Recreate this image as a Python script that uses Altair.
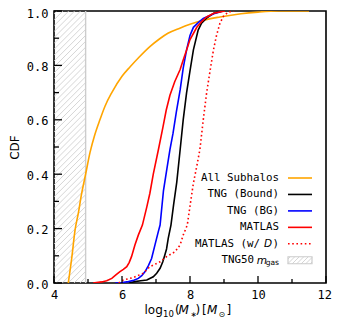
import altair as alt
import pandas as pd
import numpy as np

# ---------------- data ----------------
orange_x = [4.42, 4.52, 4.62, 4.72, 4.80, 4.93, 5.06, 5.20, 5.35, 5.50, 5.70, 6.00, 6.24, 6.50,
            6.82, 7.10, 7.35, 7.70, 8.00, 8.40, 8.88, 9.50, 10.0, 10.6, 11.5]
orange_y = [0.0, 0.09, 0.195, 0.26, 0.32, 0.40, 0.48, 0.545, 0.60, 0.65, 0.70, 0.76, 0.795, 0.83,
            0.869, 0.897, 0.918, 0.937, 0.951, 0.966, 0.978, 0.99, 0.996, 1.0, 1.0]

black_x = [6.20, 6.38, 6.55, 6.73, 6.92, 7.02, 7.12, 7.20, 7.26, 7.31, 7.36, 7.44, 7.52, 7.61,
           7.71, 7.80, 7.90, 8.00, 8.10, 8.24, 8.34, 8.50, 8.70, 8.95]
black_y = [0.0, 0.005, 0.008, 0.011, 0.023, 0.036, 0.054, 0.078, 0.103, 0.125, 0.164, 0.213, 0.29,
           0.37, 0.49, 0.60, 0.70, 0.78, 0.857, 0.93, 0.955, 0.975, 0.992, 1.0]

blue_x = [5.80, 6.00, 6.19, 6.35, 6.48, 6.58, 6.68, 6.78, 6.87, 6.97, 7.07, 7.12, 7.22, 7.32,
          7.41, 7.50, 7.60, 7.71, 7.80, 7.90, 8.00, 8.10, 8.25, 8.39, 8.55, 8.70, 8.97]
blue_y = [0.0, 0.002, 0.005, 0.01, 0.017, 0.027, 0.042, 0.065, 0.09, 0.14, 0.19, 0.213, 0.34, 0.42,
          0.49, 0.55, 0.63, 0.71, 0.79, 0.857, 0.91, 0.94, 0.958, 0.973, 0.982, 0.99, 1.0]

red_x = [5.15, 5.40, 5.55, 5.70, 5.82, 5.94, 6.04, 6.14, 6.21, 6.28, 6.38, 6.48, 6.60, 6.73,
         6.82, 6.92, 7.07, 7.20, 7.30, 7.41, 7.55, 7.71, 7.80, 7.90, 8.00, 8.20, 8.35, 8.49,
         8.70, 9.03]
red_y = [0.0, 0.004, 0.008, 0.017, 0.03, 0.042, 0.05, 0.06, 0.075, 0.097, 0.14, 0.176, 0.213, 0.28,
         0.33, 0.40, 0.49, 0.57, 0.635, 0.69, 0.74, 0.785, 0.82, 0.857, 0.895, 0.94, 0.962, 0.978,
         0.992, 1.0]

dotted_x = [5.90, 6.04, 6.33, 6.63, 6.82, 7.12, 7.31, 7.56, 7.71, 7.80, 7.92, 8.02, 8.10, 8.20,
            8.29, 8.39, 8.49, 8.59, 8.69, 8.78, 8.88, 8.98, 9.12, 9.30]
dotted_y = [0.0, 0.011, 0.02, 0.036, 0.06, 0.078, 0.097, 0.115, 0.14, 0.176, 0.213, 0.30, 0.367,
            0.43, 0.49, 0.60, 0.70, 0.78, 0.857, 0.91, 0.955, 0.98, 0.996, 1.0]

gas_mass_limit = 4.93

legend_labels = ["All Subhalos", "TNG (Bound)", "TNG (BG)", "MATLAS"]
legend_colors = ["#FFA500", "#000000", "#0000FF", "#FF0000"]

x_major = [4, 6, 8, 10, 12]
x_minor = [5, 7, 9, 11]
y_major = [0.0, 0.2, 0.4, 0.6, 0.8, 1.0]
y_minor = [0.1, 0.3, 0.5, 0.7, 0.9]

# ---------------- layout ----------------
W, H = 272, 272
XMIN, XMAX = 4, 12
PX_PER_X = W / (XMAX - XMIN)
MONO = "DejaVu Sans Mono"
SANS = "DejaVu Sans"

xs = alt.Scale(domain=[XMIN, XMAX], nice=False, zero=False)
ys = alt.Scale(domain=[0, 1], nice=False, zero=False)
xaxis = alt.Axis(values=x_major, format="d", title=None, ticks=False, tickSize=0,
                 labelPadding=6, domain=False, grid=False, labelFont=MONO, labelFontSize=12,
                 labelColor="black", labelFlush=False, labelOverlap=False,
                 labelOffset={"condition": {"test": f"datum.value === {XMAX}", "value": -1.8},
                              "value": 0})
yaxis = alt.Axis(values=y_major, format=".1f", title="CDF", ticks=False, tickSize=0,
                 labelPadding=6, domain=False, grid=False, labelFont=MONO, labelFontSize=12,
                 labelColor="black", labelFlush=False, labelOverlap=False,
                 labelOffset={"condition": {"test": "datum.value === 1", "value": 2.6},
                              "value": 1},
                 titleFont=SANS, titleFontSize=12, titleFontWeight="normal",
                 titleColor="black", titlePadding=5)


def X(field="x"):
    return alt.X(f"{field}:Q", scale=xs, axis=xaxis)


def Y(field="y"):
    return alt.Y(f"{field}:Q", scale=ys, axis=yaxis)


def px_to_x(px):
    return XMIN + px / PX_PER_X


def py_to_y(py):
    return 1 - py / H


def hatch_segments(px0, px1, py0, py1, step=5.9):
    """'/' hatch lines inside a pixel box, returned in data units."""
    w, h = px1 - px0, py1 - py0
    segs = []
    for c in np.arange(step / 2, w + h, step):
        a = max(0.0, c - w)
        b = min(h, c)
        if b <= a:
            continue
        segs.append({
            "x": px_to_x(px0 + c - a), "y": py_to_y(py0 + a),
            "x2": px_to_x(px0 + c - b), "y2": py_to_y(py0 + b),
        })
    return pd.DataFrame(segs)


layers = []

# hatched TNG50 gas-mass region
hx1 = (gas_mass_limit - XMIN) * PX_PER_X
layers.append(
    alt.Chart(hatch_segments(0, hx1, 0, H)).mark_rule(color="#d0d0d0", strokeWidth=0.9, clip=True)
    .encode(x=X(), y=Y(), x2="x2:Q", y2="y2:Q")
)
layers.append(
    alt.Chart(pd.DataFrame({"x": [XMIN - 1], "x2": [gas_mass_limit], "y": [-0.1], "y2": [1.1]}))
    .mark_rect(fill=None, stroke="#cccccc", strokeWidth=1.4, clip=True)
    .encode(x=X(), x2="x2:Q", y=Y(), y2="y2:Q")
)

# curves (drawing order as in the reference)
curves = [
    (orange_x, orange_y, "#FFA500", None, "monotone"),
    (black_x, black_y, "#000000", None, "linear"),
    (blue_x, blue_y, "#0000FF", None, "linear"),
    (red_x, red_y, "#FF0000", None, "linear"),
    (dotted_x, dotted_y, "#FF0000", [1.6, 2.6], "linear"),
]
for cx, cy, col, dash, interp in curves:
    kw = dict(color=col, strokeWidth=1.6, clip=True, interpolate=interp)
    if dash:
        kw["strokeDash"] = dash
    layers.append(
        alt.Chart(pd.DataFrame({"x": cx, "y": cy})).mark_line(**kw).encode(x=X(), y=Y())
    )

# inward ticks
for vals, ln in [(x_major, 7), (x_minor, 4)]:
    layers.append(
        alt.Chart(pd.DataFrame({"x": vals})).mark_rule(color="black", strokeWidth=1.3)
        .encode(x=X(), y=alt.value(H), y2=alt.value(H - ln))
    )
for vals, ln in [(y_major, 8), (y_minor, 5)]:
    layers.append(
        alt.Chart(pd.DataFrame({"y": vals})).mark_rule(color="black", strokeWidth=1.3)
        .encode(y=Y(), x=alt.value(0), x2=alt.value(ln))
    )

# ---------------- legend (labels left, samples right) ----------------
ROW0, ROWSTEP = 167.0, 16.45
label_x = px_to_x(225)
sym_x0, sym_x1 = px_to_x(234), px_to_x(258)
row_y = [py_to_y(ROW0 + ROWSTEP * i) for i in range(6)]

leg = pd.DataFrame({"label": legend_labels, "color": legend_colors, "y": row_y[:4],
                    "x": [label_x] * 4, "xs0": [sym_x0] * 4, "xs1": [sym_x1] * 4})
layers.append(
    alt.Chart(leg).mark_text(align="right", baseline="middle", font=MONO, fontSize=10.8, color="black")
    .encode(x=X(), y=Y(), text="label:N")
)
layers.append(
    alt.Chart(leg).mark_rule(strokeWidth=1.6)
    .encode(x=X("xs0"), x2="xs1:Q", y=Y(), color=alt.Color("color:N", scale=None))
)
# MATLAS (w/ D)
r4 = pd.DataFrame({"x": [label_x], "y": [row_y[4]], "xs0": [sym_x0], "xs1": [sym_x1]})
layers.append(alt.Chart(r4).mark_text(align="right", baseline="middle", font=MONO, fontSize=10.8,
                                      color="black", text=")").encode(x=X(), y=Y()))
layers.append(alt.Chart(r4).mark_text(align="right", baseline="middle", font=SANS, fontSize=10.5,
                                      fontStyle="italic", color="black", text="D", dx=-7)
              .encode(x=X(), y=Y()))
layers.append(alt.Chart(r4).mark_text(align="right", baseline="middle", font=MONO, fontSize=10.8,
                                      color="black", text="MATLAS (w/", dx=-19).encode(x=X(), y=Y()))
layers.append(alt.Chart(r4).mark_rule(strokeWidth=1.6, color="#FF0000", strokeDash=[1.6, 2.6])
              .encode(x=X("xs0"), x2="xs1:Q", y=Y()))
# TNG50 m_gas
r5 = pd.DataFrame({"x": [label_x], "y": [row_y[5]]})
layers.append(alt.Chart(r5).mark_text(align="right", baseline="alphabetic", font=SANS, fontSize=7.5,
                                      color="black", text="gas", dy=5).encode(x=X(), y=Y()))
layers.append(alt.Chart(r5).mark_text(align="right", baseline="alphabetic", font=SANS, fontSize=10.5,
                                      fontStyle="italic", color="black", text="m", dx=-12, dy=3.5)
              .encode(x=X(), y=Y()))
layers.append(alt.Chart(r5).mark_text(align="right", baseline="middle", font=MONO, fontSize=10.8,
                                      color="black", text="TNG50", dx=-25).encode(x=X(), y=Y()))
sy = ROW0 + ROWSTEP * 5
layers.append(
    alt.Chart(hatch_segments(234, 258, sy - 3.5, sy + 3.5, step=4.5))
    .mark_rule(color="#d0d0d0", strokeWidth=0.9).encode(x=X(), y=Y(), x2="x2:Q", y2="y2:Q")
)
layers.append(
    alt.Chart(pd.DataFrame({"x": [sym_x0], "x2": [sym_x1], "y": [py_to_y(sy - 3.5)], "y2": [py_to_y(sy + 3.5)]}))
    .mark_rect(fill=None, stroke="#cccccc", strokeWidth=1.2).encode(x=X(), x2="x2:Q", y=Y(), y2="y2:Q")
)

# ---------------- x-axis title log10(M*) [M⊙] ----------------
title_pieces = [
    ("log", 90.5, 303, 12, "normal"),
    ("10", 109.0, 306, 8.5, "normal"),
    ("(", 121.0, 303, 12, "normal"),
    ("M", 124.5, 303, 12, "italic"),
    ("\u2217", 136.4, 306, 7.5, "normal"),
    (")", 141.5, 303, 12, "normal"),
    ("[", 148.0, 303, 12, "normal"),
    ("M", 153.0, 303, 12, "italic"),
    ("\u2299", 164.5, 306, 8.0, "normal"),
    ("]", 172.5, 303, 12, "normal"),
]
one = pd.DataFrame({"a": [0]})
for txt, tx, ty, fs, st in title_pieces:
    layers.append(
        alt.Chart(one).mark_text(align="left", baseline="alphabetic", font=SANS, fontSize=fs,
                                 fontStyle=st, color="black", text=txt)
        .encode(x=alt.value(tx), y=alt.value(ty))
    )

chart = (
    alt.layer(*layers)
    .properties(width=W, height=H, autosize=alt.AutoSizeParams(type="none"),
                padding={"left": 46, "top": 3, "right": 6, "bottom": 36}, background="white")
    .configure_view(stroke="black", strokeWidth=1.6)
)

chart.save("out.html", embed_options={"renderer": "svg", "actions": False})
